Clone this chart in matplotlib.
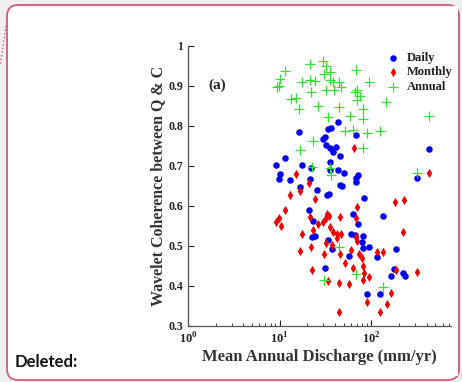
import matplotlib
matplotlib.use("Agg")
import matplotlib.pyplot as plt
from matplotlib.patches import FancyBboxPatch, Rectangle
from matplotlib.lines import Line2D
from matplotlib.transforms import IdentityTransform

plt.rcParams['font.family'] = 'Liberation Serif'
plt.rcParams['font.weight'] = 'bold'
plt.rcParams['axes.labelweight'] = 'bold'
plt.rcParams['mathtext.fontset'] = 'custom'
plt.rcParams['mathtext.rm'] = 'Liberation Serif:bold'
plt.rcParams['mathtext.bf'] = 'Liberation Serif:bold'

# mean annual discharge (mm/yr) and wavelet coherence for each scale
daily_q = [16.1, 11.5, 9.2, 17.6, 10.2, 9.8, 13.1, 16.5, 21.5, 21.8,
           25.8, 21.1, 22.9, 22.8, 24.4, 29.7, 32.4, 35.2, 40.9, 38.3,
           33.7, 36.4, 43.4, 67.7, 31.0, 45.3, 35.2, 35.8, 43.4, 50.9,
           71.8, 68.2, 67.7, 45.3, 48.2, 32.9, 34.3, 62.4, 83.4, 135,
           71.8, 59.3, 66.1, 80.8, 78.2, 80.2, 93.9, 33.7, 37.5, 57.2,
           114, 188, 31.0, 177, 163, 223, 232, 90.8, 125, 425, 312]
daily_c = [0.786, 0.721, 0.703, 0.703, 0.679, 0.668, 0.664, 0.647, 0.668, 0.694,
           0.640, 0.591, 0.563, 0.522, 0.526, 0.768, 0.753, 0.744, 0.748, 0.736,
           0.793, 0.795, 0.809, 0.778, 0.772, 0.725, 0.709, 0.690, 0.690, 0.682,
           0.678, 0.669, 0.659, 0.653, 0.651, 0.628, 0.631, 0.581, 0.619, 0.576,
           0.554, 0.529, 0.528, 0.524, 0.511, 0.494, 0.497, 0.515, 0.492, 0.475,
           0.473, 0.492, 0.446, 0.442, 0.426, 0.432, 0.426, 0.379, 0.381, 0.743, 0.669]

monthly_q = [15.1, 21.0, 16.5, 13.1, 24.1, 11.5, 9.2, 9.8, 10.3, 21.3,
             26.2, 22.9, 17.4, 21.9, 16.5, 22.6, 64.4, 32.9, 34.8, 31.8,
             45.3, 29.7, 35.8, 38.3, 47.2, 41.7, 70.3, 67.7, 68.5, 70.3,
             223, 181, 230, 428, 32.4, 37.0, 41.7, 30.5, 45.3, 59.7,
             72.6, 114, 135, 79.8, 80.8, 83.8, 81.3, 93.9, 52.2, 62.4,
             33.9, 44.4, 57.0, 185, 312, 164, 90.4, 147, 44.5, 125]
monthly_c = [0.679, 0.658, 0.638, 0.628, 0.618, 0.591, 0.561, 0.569, 0.551, 0.572,
             0.554, 0.539, 0.531, 0.497, 0.488, 0.441, 0.744, 0.580, 0.574, 0.569,
             0.573, 0.560, 0.548, 0.536, 0.530, 0.530, 0.598, 0.570, 0.522, 0.513,
             0.536, 0.611, 0.615, 0.683, 0.507, 0.503, 0.519, 0.479, 0.480, 0.489,
             0.480, 0.485, 0.486, 0.469, 0.451, 0.433, 0.415, 0.422, 0.457, 0.444,
             0.413, 0.407, 0.404, 0.440, 0.434, 0.383, 0.361, 0.354, 0.334, 0.335]

annual_q = [21.3, 29.7, 32.2, 11.5, 30.4, 35.2, 67.7, 10.2, 17.5, 21.3,
            24.1, 35.2, 37.9, 44.2, 47.2, 9.3, 9.9, 32.4, 38.9, 22.2,
            66.9, 70.3, 75.8, 70.3, 13.2, 15.2, 93.9, 144, 16.2, 26.0,
            44.4, 80.8, 33.7, 58.2, 81.3, 425, 51.3, 63.3, 90.8, 125,
            22.9, 16.5, 81.8, 22.4, 35.6, 36.1, 312, 44.2, 68.2, 30.4, 134]
annual_c = [0.954, 0.963, 0.951, 0.938, 0.931, 0.934, 0.940, 0.917, 0.910, 0.916,
            0.913, 0.914, 0.910, 0.909, 0.898, 0.898, 0.901, 0.890, 0.889, 0.886,
            0.884, 0.890, 0.876, 0.864, 0.867, 0.870, 0.909, 0.860, 0.842, 0.850,
            0.848, 0.843, 0.823, 0.824, 0.817, 0.826, 0.788, 0.791, 0.783, 0.788,
            0.762, 0.740, 0.746, 0.698, 0.695, 0.678, 0.682, 0.497, 0.429, 0.414, 0.398]

x_ticks = [1, 10, 100]
x_tick_labels = [r'$10^{0}$', r'$10^{1}$', r'$10^{2}$']
y_ticks = [0.3, 0.4, 0.5, 0.6, 0.7, 0.8, 0.9, 1.0]
y_tick_labels = ['0.3', '0.4', '0.5', '0.6', '0.7', '0.8', '0.9', '1']

fig = plt.figure(figsize=(4.62, 3.82), dpi=100)
fig.patch.set_facecolor('#efefef')

# rounded white card with the red outline
card = FancyBboxPatch((7, 2), 452, 375, boxstyle='round,pad=0,rounding_size=11',
                      transform=IdentityTransform(), facecolor='white',
                      edgecolor='#d4587a', linewidth=1.3, zorder=-5)
fig.patches.append(card)
fig.lines.append(Line2D([7.5, 0], [367, 316], transform=IdentityTransform(),
                        color='#d4587a', linestyle=':', linewidth=1.0))

ax = fig.add_axes([188 / 462, 56 / 382, 263 / 462, 280 / 382])
ax.patch.set_alpha(0)

ax.scatter(daily_q, daily_c, s=22, marker='o', color='#0000f0', linewidths=0, label='Daily', zorder=3)
ax.scatter(monthly_q, monthly_c, s=22, marker='d', color='#f00000', linewidths=0, label='Monthly', zorder=3)
ax.scatter(annual_q, annual_c, s=50, marker='+', color='#33e033', linewidths=0.9, label='Annual', zorder=3)

ax.set_xscale('log')
ax.set_xlim(1, 740)
ax.set_ylim(0.3, 1.0)
ax.set_xticks(x_ticks)
ax.set_xticklabels(x_tick_labels, fontsize=9)
ax.set_yticks(y_ticks)
ax.set_yticklabels(y_tick_labels, fontsize=8.5)
ax.tick_params(which='both', direction='in', colors='#222222', labelcolor='#222222')
ax.tick_params(which='major', length=4, width=0.8)
ax.tick_params(which='minor', length=2.5, width=0.6)
ax.spines['top'].set_visible(False)
ax.spines['right'].set_visible(False)
for side in ['left', 'bottom']:
    ax.spines[side].set_color('#555555')
    ax.spines[side].set_linewidth(0.9)

ax.set_xlabel('Mean Annual Discharge (mm/yr)', fontsize=12, fontweight='bold',
              color='#333333', labelpad=2)
ax.set_ylabel('Wavelet Coherence between Q & C', fontsize=11.5, fontweight='bold',
              color='#333333', labelpad=2)
ax.text(208 / 462, 1 - 85 / 382, '(a)', transform=fig.transFigure, fontsize=11,
        fontweight='bold', va='center', ha='left', color='#222222')

leg = ax.legend(loc='upper left', bbox_to_anchor=(388 / 462, 1 - 52 / 382),
                bbox_transform=fig.transFigure, frameon=False,
                prop={'size': 9, 'weight': 'bold'},
                handlelength=0.8, handletextpad=0.7, labelspacing=0.2,
                borderpad=0, borderaxespad=0)
for t in leg.get_texts():
    t.set_color('#222222')

# the chart image stops short of the card's right edge
fig.patches.append(Rectangle((451.5, 6), 6.5, 370, transform=IdentityTransform(),
                             facecolor='white', edgecolor='none', zorder=10))

fig.text(15 / 462, 1 - 362 / 382, 'Deleted:', family='Lato', fontweight='bold',
         fontsize=12, va='center', ha='left', color='#111111')

fig.savefig('out.png', dpi=100, facecolor=fig.get_facecolor())
